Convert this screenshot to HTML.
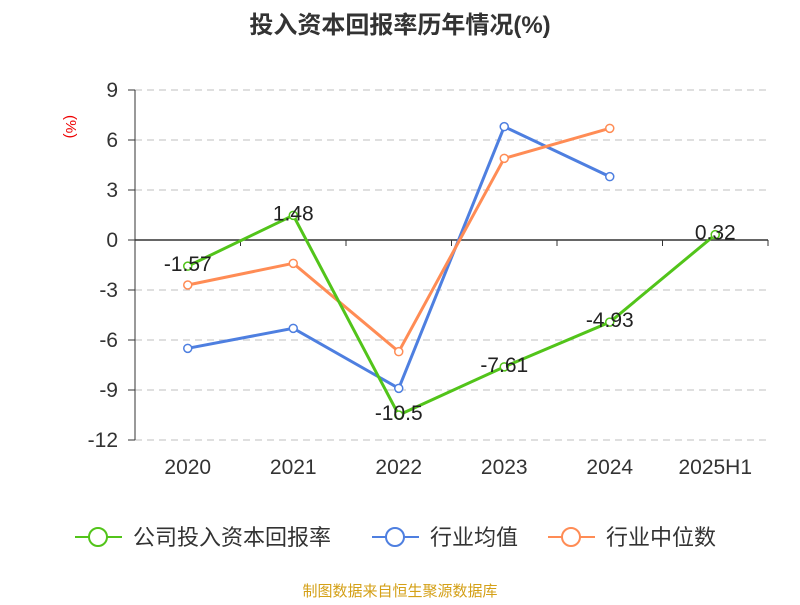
<!DOCTYPE html>
<html><head><meta charset="utf-8"><style>
body{margin:0;background:#fff;font-family:"Liberation Sans","Noto Sans CJK SC",sans-serif}
svg text{font-family:"Liberation Sans","Noto Sans CJK SC",sans-serif}
</style></head><body>
<svg id="c" width="800" height="600">
<text x="400" y="33" text-anchor="middle" font-size="24" font-weight="bold" fill="#333">投入资本回报率历年情况(%)</text>
<text x="66" y="115" font-size="15" fill="#e00" transform="rotate(90 66 115)">(%)</text>
<g id="grid"></g><g id="series"></g>
<g>
<g><line x1="75" y1="537" x2="122" y2="537" stroke="#52c41a" stroke-width="2"/><circle cx="98" cy="537" r="9" fill="#fff" stroke="#52c41a" stroke-width="2"/><text x="133" y="545" font-size="22" fill="#333">公司投入资本回报率</text></g>
<g><line x1="372" y1="537" x2="419" y2="537" stroke="#4e7fe0" stroke-width="2"/><circle cx="395" cy="537" r="9" fill="#fff" stroke="#4e7fe0" stroke-width="2"/><text x="430" y="545" font-size="22" fill="#333">行业均值</text></g>
<g><line x1="548" y1="537" x2="595" y2="537" stroke="#ff8c55" stroke-width="2"/><circle cx="571" cy="537" r="9" fill="#fff" stroke="#ff8c55" stroke-width="2"/><text x="606" y="545" font-size="22" fill="#333">行业中位数</text></g>
</g>
<text x="400" y="596" text-anchor="middle" font-size="15" fill="#d4a017">制图数据来自恒生聚源数据库</text>
</svg>
<script>
const categories=["2020","2021","2022","2023","2024","2025H1"];
const company=[-1.57,1.48,-10.5,-7.61,-4.93,0.32];
const industryAvg=[-6.5,-5.3,-8.9,6.8,3.8,null];
const industryMedian=[-2.7,-1.4,-6.7,4.9,6.7,null];
const yTicks=[9,6,3,0,-3,-6,-9,-12];
const NS="http://www.w3.org/2000/svg";
const L=135,R=768;const bw=(R-L)/categories.length;
const X=i=>L+bw*(i+0.5);const Y=v=>240-v*(350/21);
function mk(t,a,p){const e=document.createElementNS(NS,t);for(const k in a)e.setAttribute(k,a[k]);p.appendChild(e);return e;}
const g=document.getElementById('grid'),s=document.getElementById('series');
yTicks.forEach(v=>{
 const ln=mk('line',{x1:L,x2:R,y1:Y(v),y2:Y(v),stroke:v===0?'#333':'#ccc','stroke-dasharray':v===0?'':'7,5','stroke-width':v===0?1.5:1.2},g);
 
 
 const t=mk('text',{x:118,y:Y(v)+7,'text-anchor':'end','font-size':21,fill:'#333'},g);t.textContent=v;
 
 
 mk('line',{x1:128,x2:135,y1:Y(v),y2:Y(v),stroke:'#333'},g);
});
mk('line',{x1:135,x2:135,y1:Y(9),y2:Y(-12),stroke:'#333'},g);
categories.forEach((c,i)=>{
 const t=mk('text',{x:X(i),y:474,'text-anchor':'middle','font-size':21,fill:'#333'},g);t.textContent=c;
 
 
 mk('line',{x1:L+bw*(i+1),x2:L+bw*(i+1),y1:240,y2:246,stroke:'#333'},g);
});
function draw(arr,col,name,labels){
 const pts=arr.map((v,i)=>v==null?null:[X(i),Y(v)]).filter(p=>p);
 const pl=mk('polyline',{points:pts.map(p=>p.join(',')).join(' '),fill:'none',stroke:col,'stroke-width':3},s);
 
 
 arr.forEach((v,i)=>{if(v==null)return;
  const c=mk('circle',{cx:X(i),cy:Y(v),r:4,fill:'#fff',stroke:col,'stroke-width':1.5},s);
  
  
  if(labels){const t=mk('text',{x:X(i),y:Y(v)+5,'text-anchor':'middle','font-size':21,fill:'#222'},s);t.textContent=v;
   
   }
 });
}
draw(industryAvg,'#4e7fe0','industry-avg');
draw(industryMedian,'#ff8c55','industry-median');
draw(company,'#52c41a','company',true);
</script>
</body></html>
